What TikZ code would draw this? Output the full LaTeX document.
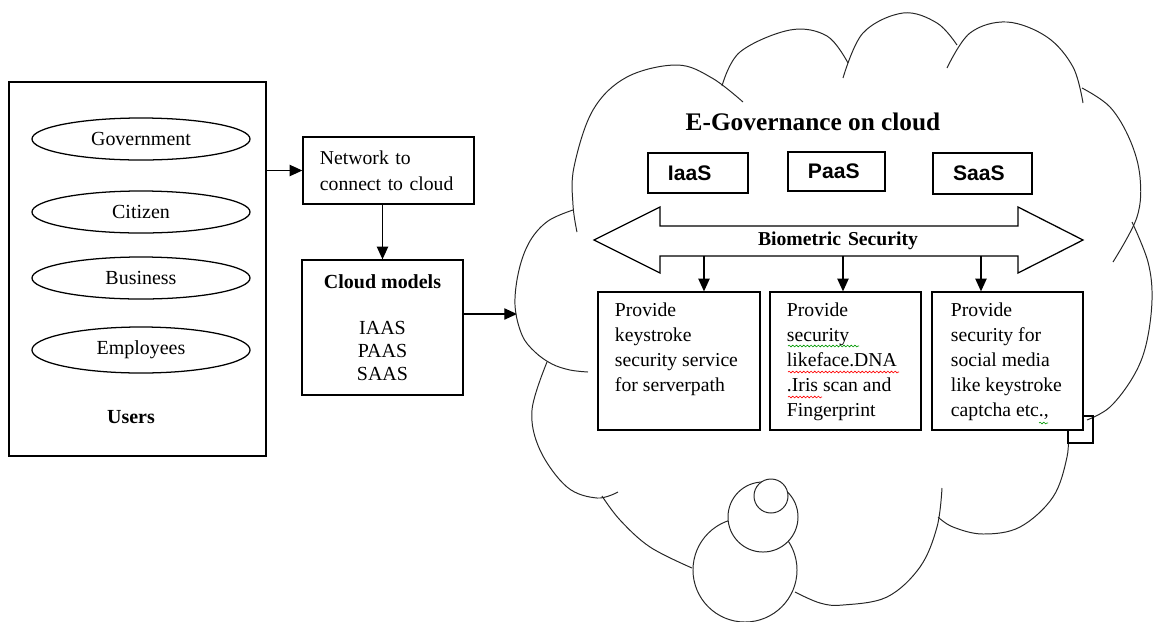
\documentclass[tikz,border=0pt]{standalone}
\usepackage{fontspec}
\setmainfont{Liberation Serif}
\newfontfamily\boxsans{Liberation Sans}
\usetikzlibrary{arrows.meta,calc,shapes.geometric,decorations.pathmorphing}
\begin{document}
\begin{tikzpicture}[x=0.025cm,y=-0.025cm,
  line width=0.9pt,
  arr/.style={-{Triangle[length=9pt,width=8pt]}, line width=0.9pt},
  box/.style={draw, fill=white, inner sep=0pt},
  ell/.style={draw, ellipse, inner sep=0pt, minimum width=5.45cm, minimum height=1.05cm, font=\fontsize{14.2}{17}\selectfont},
  body/.style={font=\fontsize{14}{17.8}\selectfont, align=left, inner sep=0pt, anchor=north west},
  svc/.style={box, font=\boxsans\bfseries\fontsize{15}{17}\selectfont, align=left, inner xsep=0.5cm},
  cloudline/.style={line width=0.7pt, draw=black!85},
  squig/.style={decorate, decoration={snake, amplitude=0.6pt, segment length=2.6pt}, line width=0.45pt}
]
\useasboundingbox (0,0) rectangle (1153,621);

% ---------- left side ----------
\node[box, minimum width=6.425cm, minimum height=9.35cm] (users) at (137.5,269) {};
\node[ell] (gov) at (141,139) {Government};
\node[ell] (cit) at (141,212) {Citizen};
\node[ell] (bus) at (141,278) {Business};
\node[ell, minimum height=1.15cm] (emp) at (141,350) {Employees};
\node[font=\bfseries\fontsize{14.2}{17}\selectfont] (userslbl) at (131,417) {Users};

\node[box, minimum width=4.275cm, minimum height=1.675cm, inner xsep=0.425cm,
      text width=3.425cm, align=left, font=\fontsize{14}{18.5}\selectfont] (network) at (388.5,170.5)
      {Network to\\connect to cloud};
\node[box, minimum width=4.025cm, minimum height=3.375cm, align=center,
      font=\fontsize{14.2}{16.4}\selectfont] (models) at (382.5,327.5)
      {\textbf{Cloud models}\\[16.4pt]IAAS\\PAAS\\SAAS};

\draw[arr] (users.east |- network.west) -- (network.west);
\draw[arr] (models.north |- network.south) -- (models.north);
\coordinate (cloudin) at (517,314);
\draw[arr] (models.east |- cloudin) -- (cloudin);

% ---------- cloud ----------
\draw[cloudline] plot[smooth, tension=0.6] coordinates {(577,232) (573,205) (574,167) (593,110) (627,77) (677,65) (712,78) (743,102)};
\draw[cloudline] plot[smooth, tension=0.6] coordinates {(722,86) (740,52) (790,30) (827,36) (848,63)};
\draw[cloudline] plot[smooth, tension=0.6] coordinates {(843,78) (863,33) (903,13) (937,23) (957,45)};
\draw[cloudline] plot[smooth, tension=0.6] coordinates {(947,68) (970,33) (1007,22) (1047,37) (1073,67) (1083,103)};
\draw[cloudline] plot[smooth, tension=0.6] coordinates {(1082,88) (1110,107) (1130,140) (1140,177) (1137,217) (1113,262)};
\draw[cloudline] plot[smooth, tension=0.6] coordinates {(1132,222) (1148,262) (1152,300) (1146,345) (1133,377) (1110,407) (1087,420)};
\draw[cloudline] plot[smooth, tension=0.6] coordinates {(1068,430) (1067,457) (1053,497) (1020,527) (983,534) (953,527) (938,517)};
\draw[cloudline] plot[smooth, tension=0.6] coordinates {(942,488) (937,527) (920,567) (887,597) (843,605) (820,603) (795,592)};
\draw[cloudline] plot[smooth, tension=0.6] coordinates {(692,568) (650,547) (620,520) (602,496)};
\draw[cloudline] plot[smooth, tension=0.6] coordinates {(547,362) (532,410) (540,450) (567,487) (597,498) (618,492)};
\draw[cloudline] plot[smooth, tension=0.6] coordinates {(573,210) (548,221) (530,241) (519,270) (515,305) (522,335) (535,352) (552,364) (570,370) (588,372)};
\draw[cloudline, fill=white] (745,570) circle[radius=1.3cm];
\draw[cloudline, fill=white] (763,517) circle[radius=0.875cm];
\draw[cloudline, fill=white] (771,496) circle[radius=0.425cm];

% ---------- inside cloud ----------
\node[font=\bfseries\fontsize{18}{20}\selectfont] (title) at (813,122) {E-Governance on cloud};
\node[svc, minimum width=2.5cm, minimum height=1cm, text width=1.5cm] (iaas) at (698,173) {IaaS};
\node[svc, minimum width=2.425cm, minimum height=0.975cm, text width=1.425cm] (paas) at (836.5,171.5) {PaaS};
\node[svc, minimum width=2.475cm, minimum height=1.025cm, text width=1.475cm] (saas) at (982.5,173.5) {SaaS};

\draw[line width=0.9pt, fill=white] (594,240) -- (660,207) -- (660,226) -- (1018,226) -- (1018,207)
  -- (1083,240) -- (1018,273) -- (1018,256) -- (660,256) -- (660,273) -- cycle;
\node[font=\bfseries\fontsize{14}{16}\selectfont, inner sep=0pt] (bio) at (838,241) {Biometric\hspace{0.35em}Security};
\coordinate (t1) at (704,256);
\coordinate (t2) at (843,256);
\coordinate (t3) at (981,256);

\draw[line width=0.9pt] (1068,416) rectangle (1093,443);
\node[box, minimum width=4.05cm, minimum height=3.45cm] (p1) at (679,361) {};
\node[box, minimum width=3.775cm, minimum height=3.45cm] (p2) at (845.5,361) {};
\node[box, minimum width=3.775cm, minimum height=3.45cm] (p3) at (1007.5,361) {};

\draw[arr] (t1) -- (t1 |- p1.north);
\draw[arr] (t2) -- (t2 |- p2.north);
\draw[arr] (t3) -- (t3 |- p3.north);

\node[body] (p1t) at ($(p1.north west)+(17,11)$) {Provide\\keystroke\\security service\\for serverpath};
\node[body] (p2t) at ($(p2.north west)+(17,11)$) {Provide\\security\\likeface.DNA\\.Iris scan and\\Fingerprint};
\node[body] (p3t) at ($(p3.north west)+(19,11)$) {Provide\\security for\\social media\\like keystroke\\captcha etc.,};

\draw[squig, green!60!black] (788,346) -- (859,346);
\draw[squig, red] (788,372) -- (899,372);
\draw[squig, red] (788,397) -- (822,397);
\draw[squig, green!60!black] (1039,423) -- (1048,423);
\end{tikzpicture}
\end{document}
